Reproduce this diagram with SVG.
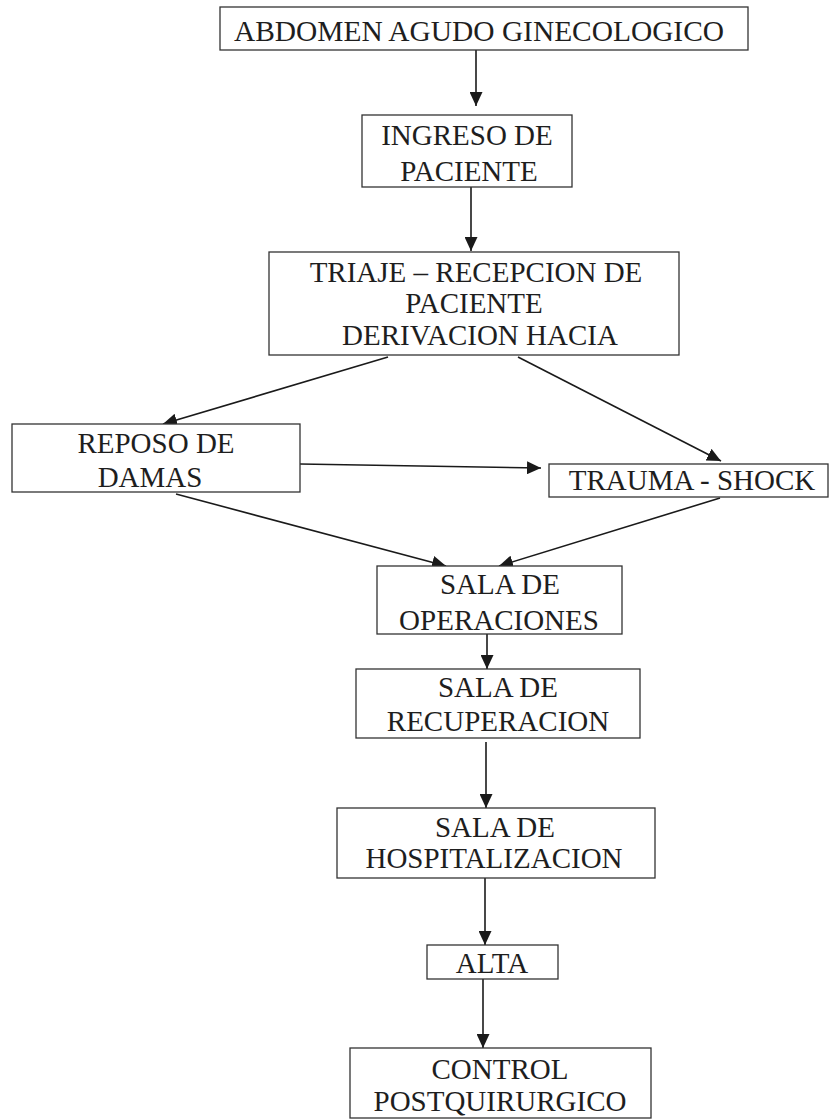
<svg xmlns="http://www.w3.org/2000/svg" width="831" height="1120" viewBox="0 0 831 1120">
  <defs>
    <marker id="arrow" markerWidth="14" markerHeight="13" refX="14" refY="6.5" orient="auto" markerUnits="userSpaceOnUse">
      <path d="M0,0 L14,6.5 L0,13 Z" fill="#1a1a1a"/>
    </marker>
    <style>
      .box { fill: #ffffff; stroke: #333333; stroke-width: 1.3; }
      .lbl { font-family: "Liberation Serif", "Times New Roman", serif; font-size: 29px; fill: #1e1e1e; text-anchor: middle; }
      .big { font-size: 30px; }
      .edge { stroke: #1a1a1a; stroke-width: 1.6; fill: none; marker-end: url(#arrow); }
    </style>
  </defs>
  <rect width="831" height="1120" fill="#ffffff"/>

  <g id="connectors">
    <line class="edge" x1="476" y1="50" x2="476" y2="106"/>
    <line class="edge" x1="471" y1="187" x2="471" y2="251"/>
    <line class="edge" x1="388" y1="357" x2="163" y2="424"/>
    <line class="edge" x1="518" y1="357" x2="721" y2="461"/>
    <line class="edge" x1="300" y1="464" x2="541" y2="468"/>
    <line class="edge" x1="176" y1="494" x2="446" y2="566"/>
    <line class="edge" x1="720" y1="498" x2="499" y2="566"/>
    <line class="edge" x1="487" y1="634" x2="487" y2="669"/>
    <line class="edge" x1="486" y1="742" x2="486" y2="808"/>
    <line class="edge" x1="485" y1="878" x2="485" y2="945"/>
    <line class="edge" x1="483" y1="975" x2="483" y2="1048"/>
  </g>

  <g id="n-abdomen">
    <rect class="box" x="220" y="7" width="528" height="43"/>
    <text class="lbl big" x="479" y="41" textLength="490" lengthAdjust="spacingAndGlyphs">ABDOMEN AGUDO GINECOLOGICO</text>
  </g>
  <g id="n-ingreso">
    <rect class="box" x="362" y="115" width="210" height="72"/>
    <text class="lbl" x="467" y="145">INGRESO DE</text>
    <text class="lbl" x="469" y="181">PACIENTE</text>
  </g>
  <g id="n-triaje">
    <rect class="box" x="269" y="252" width="410" height="103"/>
    <text class="lbl" x="476" y="282">TRIAJE – RECEPCION DE</text>
    <text class="lbl" x="474" y="313">PACIENTE</text>
    <text class="lbl" x="480" y="345">DERIVACION HACIA</text>
  </g>
  <g id="n-reposo">
    <rect class="box" x="12" y="424" width="288" height="68"/>
    <text class="lbl" x="156" y="453">REPOSO DE</text>
    <text class="lbl" x="150" y="487">DAMAS</text>
  </g>
  <g id="n-trauma">
    <rect class="box" x="549" y="464" width="279" height="33"/>
    <text class="lbl" x="692" y="490">TRAUMA - SHOCK</text>
  </g>
  <g id="n-operaciones">
    <rect class="box" x="377" y="566" width="245" height="68"/>
    <text class="lbl" x="500" y="594">SALA DE</text>
    <text class="lbl" x="499" y="630">OPERACIONES</text>
  </g>
  <g id="n-recuperacion">
    <rect class="box" x="356" y="669" width="284" height="69"/>
    <text class="lbl" x="498" y="697">SALA DE</text>
    <text class="lbl" x="498" y="731">RECUPERACION</text>
  </g>
  <g id="n-hospitalizacion">
    <rect class="box" x="337" y="808" width="318" height="70"/>
    <text class="lbl" x="495" y="837">SALA DE</text>
    <text class="lbl" x="494" y="868">HOSPITALIZACION</text>
  </g>
  <g id="n-alta">
    <rect class="box" x="427" y="945" width="131" height="34"/>
    <text class="lbl" x="492" y="973">ALTA</text>
  </g>
  <g id="n-control">
    <rect class="box" x="350" y="1048" width="301" height="70"/>
    <text class="lbl" x="500" y="1079">CONTROL</text>
    <text class="lbl" x="500" y="1111">POSTQUIRURGICO</text>
  </g>
</svg>
